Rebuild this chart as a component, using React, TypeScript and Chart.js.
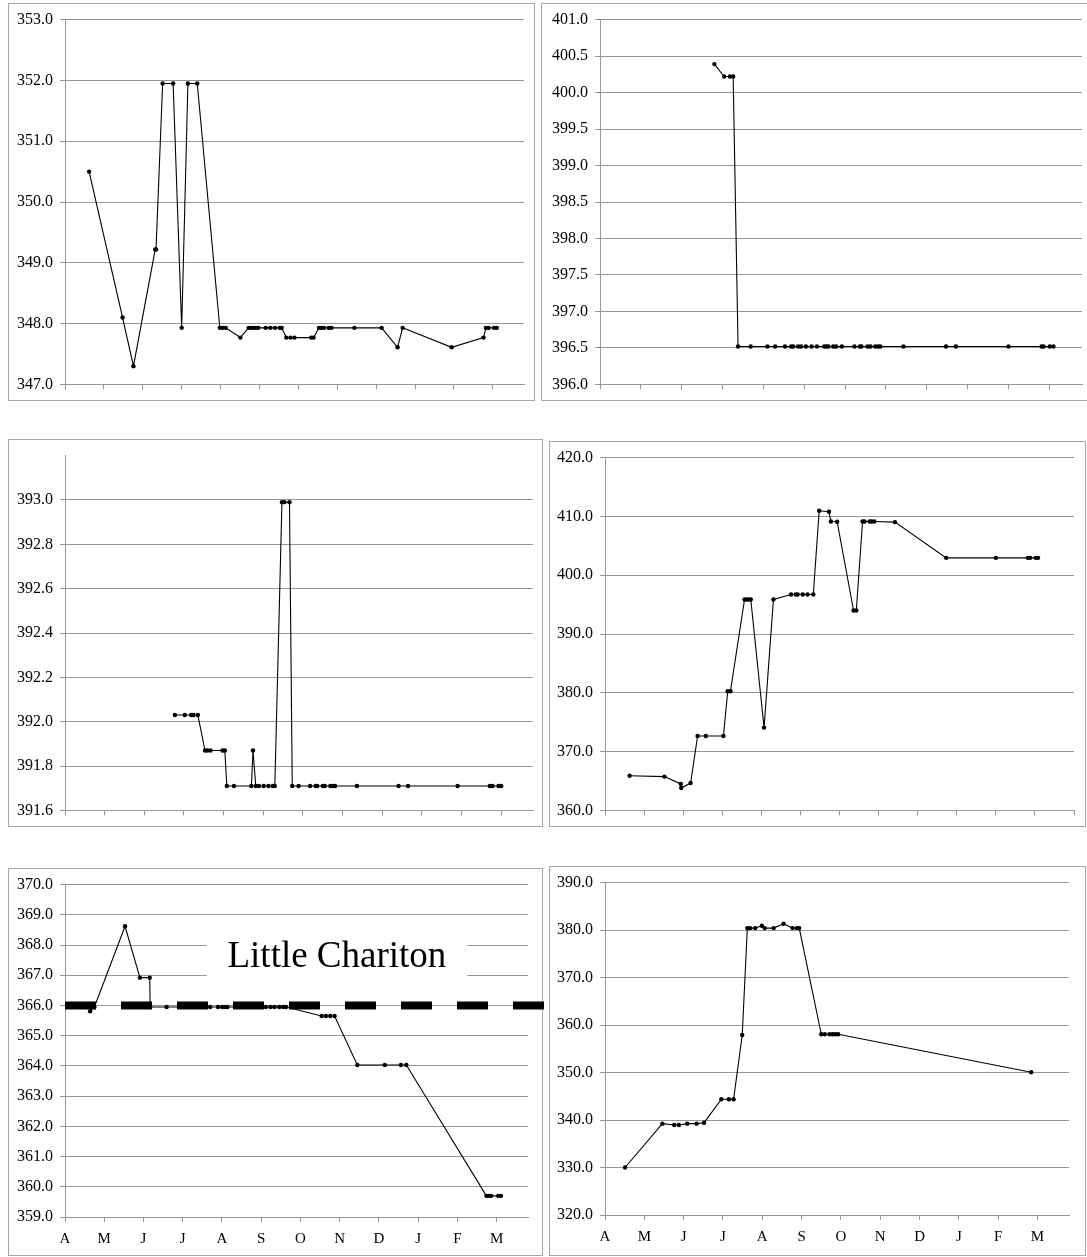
import React, { useEffect, useRef } from "react";
import { Chart, registerables } from "chart.js";

Chart.register(...registerables);

const SERIF = '"Liberation Serif", "Times New Roman", serif';
const GRID_GRAY = "#979797";
const FRAME_GRAY = "#a6a6a6";

// Month initials, April through March
const monthLetters = ["A", "M", "J", "J", "A", "S", "O", "N", "D", "J", "F", "M"];
const monthTicks = [0, 1, 2, 3, 4, 5, 6, 7, 8, 9, 10, 11];
const monthTicksWide = [0, 1, 2, 3, 4, 5, 6, 7, 8, 9, 10, 11, 12];

// Panel 1: months after 1 April, pool level
const p1Month = [
  0.62, 1.48, 1.76, 2.32, 2.34, 2.51, 2.78, 3.0, 3.16, 3.4, 3.98, 4.05, 4.13, 4.51,
  4.72, 4.78, 4.85, 4.91, 4.97, 5.16, 5.28, 5.4, 5.52, 5.57, 5.69, 5.8, 5.9, 6.33,
  6.39, 6.53, 6.59, 6.66, 6.78, 6.85, 7.44, 8.14, 8.55, 8.68, 9.94, 10.76, 10.82,
  10.89, 11.03, 11.1,
];
const p1Level = [
  350.5, 348.1, 347.3, 349.22, 349.22, 351.95, 351.95, 347.93, 351.95, 351.95, 347.93,
  347.93, 347.93, 347.77, 347.93, 347.93, 347.93, 347.93, 347.93, 347.93, 347.93,
  347.93, 347.93, 347.93, 347.77, 347.77, 347.77, 347.77, 347.77, 347.93, 347.93,
  347.93, 347.93, 347.93, 347.93, 347.93, 347.61, 347.93, 347.61, 347.77, 347.93,
  347.93, 347.93, 347.93,
];
const p1Ticks = [347, 348, 349, 350, 351, 352, 353];

// Panel 2
const p2Month = [
  2.8, 3.04, 3.18, 3.26, 3.38, 3.69, 4.1, 4.29, 4.53, 4.68, 4.73, 4.85, 4.92, 5.04,
  5.18, 5.31, 5.49, 5.54, 5.59, 5.71, 5.78, 5.92, 6.23, 6.36, 6.4, 6.55, 6.62, 6.74,
  6.81, 6.86, 7.43, 8.47, 8.71, 10.0, 10.81, 10.86, 11.01, 11.1,
];
const p2Level = [
  400.39, 400.22, 400.22, 400.22, 396.52, 396.52, 396.52, 396.52, 396.52, 396.52,
  396.52, 396.52, 396.52, 396.52, 396.52, 396.52, 396.52, 396.52, 396.52, 396.52,
  396.52, 396.52, 396.52, 396.52, 396.52, 396.52, 396.52, 396.52, 396.52, 396.52,
  396.52, 396.52, 396.52, 396.52, 396.52, 396.52, 396.52, 396.52,
];
const p2Ticks = [396, 396.5, 397, 397.5, 398, 398.5, 399, 399.5, 400, 400.5, 401];

// Panel 3
const p3Month = [
  2.77, 3.02, 3.18, 3.24, 3.35, 3.53, 3.59, 3.67, 3.97, 4.03, 4.08, 4.26, 4.7, 4.74,
  4.81, 4.89, 5.01, 5.13, 5.24, 5.29, 5.47, 5.53, 5.66, 5.73, 5.89, 6.18, 6.32, 6.36,
  6.5, 6.55, 6.69, 6.76, 6.81, 7.36, 8.41, 8.65, 9.9, 10.71, 10.78, 10.93, 11.0,
];
const p3Level = [
  392.03, 392.03, 392.03, 392.03, 392.03, 391.87, 391.87, 391.87, 391.87, 391.87,
  391.71, 391.71, 391.71, 391.87, 391.71, 391.71, 391.71, 391.71, 391.71, 391.71,
  392.99, 392.99, 392.99, 391.71, 391.71, 391.71, 391.71, 391.71, 391.71, 391.71,
  391.71, 391.71, 391.71, 391.71, 391.71, 391.71, 391.71, 391.71, 391.71, 391.71,
  391.71,
];
const p3Ticks = [391.6, 391.8, 392.0, 392.2, 392.4, 392.6, 392.8, 393.0];

// Panel 4
const p4Month = [
  0.63, 1.52, 1.94, 1.95, 2.19, 2.37, 2.58, 3.03, 3.14, 3.21, 3.57, 3.63, 3.68, 3.73,
  4.07, 4.31, 4.76, 4.88, 4.93, 5.06, 5.18, 5.33, 5.48, 5.73, 5.78, 5.94, 6.36, 6.43,
  6.59, 6.64, 6.77, 6.82, 6.89, 7.42, 8.73, 10.0, 10.82, 10.88, 11.02, 11.08,
];
const p4Level = [
  365.9, 365.75, 364.5, 363.8, 364.65, 372.65, 372.65, 372.65, 380.26, 380.26, 395.88,
  395.88, 395.88, 395.88, 374.08, 395.88, 396.71, 396.71, 396.71, 396.71, 396.71,
  396.71, 410.95, 410.8, 409.13, 409.1, 394.0, 394.0, 409.13, 409.13, 409.13, 409.13,
  409.13, 409.02, 402.95, 402.95, 402.95, 402.95, 402.95, 402.95,
];
const p4Ticks = [360, 370, 380, 390, 400, 410, 420];

// Panel 5 (Little Chariton)
const p5Month = [
  0.64, 0.75, 1.53, 1.91, 2.16, 2.17, 2.59, 3.7, 3.9, 4.01, 4.08, 4.14, 5.12, 5.24,
  5.34, 5.46, 5.56, 5.63, 6.54, 6.65, 6.76, 6.87, 7.45, 8.15, 8.56, 8.7, 10.74, 10.8,
  10.86, 11.04, 11.11,
];
const p5Level = [
  365.81, 365.95, 368.62, 366.92, 366.92, 365.95, 365.95, 365.95, 365.95, 365.95,
  365.95, 365.95, 365.95, 365.95, 365.95, 365.95, 365.95, 365.95, 365.65, 365.65,
  365.65, 365.65, 364.03, 364.03, 364.03, 364.03, 359.7, 359.7, 359.7, 359.7, 359.7,
];
const p5Ticks = [359, 360, 361, 362, 363, 364, 365, 366, 367, 368, 369, 370];
const p5GuideLevel = 366;
const p5Name = "Little Chariton";

// Panel 6
const p6Month = [
  0.51, 1.46, 1.76, 1.88, 2.09, 2.33, 2.52, 2.96, 3.15, 3.27, 3.49, 3.62, 3.69, 3.82,
  3.99, 4.06, 4.29, 4.54, 4.77, 4.88, 4.94, 5.5, 5.59, 5.71, 5.79, 5.86, 5.93, 10.84,
];
const p6Level = [
  330.0, 339.24, 338.96, 338.96, 339.24, 339.24, 339.44, 344.37, 344.37, 344.37,
  357.92, 380.42, 380.42, 380.42, 380.9, 380.42, 380.42, 381.32, 380.42, 380.42,
  380.42, 358.06, 358.06, 358.06, 358.06, 358.06, 358.06, 350.07,
];
const p6Ticks = [320, 330, 340, 350, 360, 370, 380, 390];

type Rect = { l: number; t: number; r: number; b: number };
type PanelSpec = {
  months: number[];
  levels: number[];
  yTicks: number[];
  yMax: number;
  xTicks: number[];
  xMax: number;
  labelled: boolean;
  frame: Rect;
  plot: Rect;
  canvasRight?: number;
  guide?: { level: number; toMonth: number };
  caption?: { text: string; month: number; level: number };
};

const PANELS: PanelSpec[] = [
  {
    months: p1Month, levels: p1Level, yTicks: p1Ticks, yMax: 353,
    xTicks: monthTicks, xMax: 11.8, labelled: false,
    frame: { l: 8, t: 3, r: 534, b: 400 }, plot: { l: 65, t: 15, r: 524, b: 387 },
  },
  {
    months: p2Month, levels: p2Level, yTicks: p2Ticks, yMax: 401,
    xTicks: monthTicks, xMax: 11.8, labelled: false,
    frame: { l: 541, t: 3, r: 1095, b: 400 }, plot: { l: 600, t: 15, r: 1082, b: 387 },
    canvasRight: 1087,
  },
  {
    months: p3Month, levels: p3Level, yTicks: p3Ticks, yMax: 393.2,
    xTicks: monthTicks, xMax: 11.8, labelled: false,
    frame: { l: 8, t: 439, r: 542, b: 826 }, plot: { l: 65, t: 452, r: 533, b: 816 },
  },
  {
    months: p4Month, levels: p4Level, yTicks: p4Ticks, yMax: 420,
    xTicks: monthTicksWide, xMax: 12, labelled: false,
    frame: { l: 549, t: 441, r: 1085, b: 826 }, plot: { l: 605, t: 454, r: 1074, b: 816 },
  },
  {
    months: p5Month, levels: p5Level, yTicks: p5Ticks, yMax: 370,
    xTicks: monthTicks, xMax: 11.8, labelled: true,
    frame: { l: 8, t: 868, r: 542, b: 1255 }, plot: { l: 65, t: 882, r: 528, b: 1217 },
    canvasRight: 548,
    guide: { level: p5GuideLevel, toMonth: 12.23 },
    caption: { text: p5Name, month: 6.93, level: 367.27 },
  },
  {
    months: p6Month, levels: p6Level, yTicks: p6Ticks, yMax: 390,
    xTicks: monthTicks, xMax: 11.8, labelled: true,
    frame: { l: 549, t: 866, r: 1085, b: 1255 }, plot: { l: 605, t: 879, r: 1069, b: 1215 },
  },
];

// Text label on a white box, anchored at a (month, level) baseline point
function captionPlugin(caption: { text: string; month: number; level: number }) {
  return {
    id: "caption",
    beforeDatasetsDraw(chart: any) {
      const { ctx, scales } = chart;
      const cx = scales.x.getPixelForValue(caption.month);
      const base = scales.y.getPixelForValue(caption.level);
      ctx.save();
      ctx.font = `37px ${SERIF}`;
      const w = ctx.measureText(caption.text).width;
      ctx.fillStyle = "#ffffff";
      ctx.fillRect(cx - w / 2 - 21, base - 50, w + 42, 72);
      ctx.fillStyle = "#000000";
      ctx.textAlign = "center";
      ctx.textBaseline = "alphabetic";
      ctx.fillText(caption.text, cx, base);
      ctx.restore();
    },
  };
}

function LevelPanel({ spec }: { spec: PanelSpec }) {
  const ref = useRef<HTMLCanvasElement>(null);
  const { frame, plot } = spec;
  const width = (spec.canvasRight ?? frame.r) - frame.l + 1;
  const height = frame.b - frame.t + 1;

  useEffect(() => {
    const canvas = ref.current;
    if (!canvas) return;
    const yWidth = plot.l - frame.l;
    const xHeight = height - (plot.b - frame.t);
    const padTop = plot.t - frame.t;
    const padRight = width - (plot.r - frame.l);

    const datasets: any[] = [];
    if (spec.guide) {
      datasets.push({
        data: [
          { x: 0, y: spec.guide.level },
          { x: spec.guide.toMonth, y: spec.guide.level },
        ],
        borderColor: "#000000",
        borderWidth: 8,
        borderDash: [31, 25],
        borderCapStyle: "butt",
        pointRadius: 0,
        clip: false,
        order: 0,
      });
    }
    datasets.push({
      data: spec.months.map((m, i) => ({ x: m, y: spec.levels[i] })),
      borderColor: "#000000",
      borderWidth: 1.1,
      pointRadius: 2.2,
      pointBackgroundColor: "#000000",
      pointBorderWidth: 0,
      tension: 0,
      order: 1,
    });

    const chart = new Chart(canvas, {
      type: "line",
      data: { datasets },
      plugins: spec.caption ? [captionPlugin(spec.caption)] : [],
      options: {
        responsive: false,
        animation: false,
        events: [],
        layout: { padding: { top: padTop, right: padRight, left: 0, bottom: 0 } },
        plugins: { legend: { display: false }, tooltip: { enabled: false } },
        scales: {
          x: {
            type: "linear",
            min: 0,
            max: spec.xMax,
            afterBuildTicks: (s: any) => {
              s.ticks = spec.xTicks.map((v) => ({ value: v }));
            },
            afterFit: (s: any) => {
              s.height = xHeight;
            },
            grid: { drawOnChartArea: false, drawTicks: true, tickLength: 5, color: GRID_GRAY },
            border: { display: true, color: GRID_GRAY, width: 1 },
            ticks: {
              display: spec.labelled,
              autoSkip: false,
              maxRotation: 0,
              padding: 8,
              color: "#000000",
              font: { family: SERIF, size: 15 },
              callback: (v: any) => monthLetters[Math.round(Number(v))] ?? "",
            },
          },
          y: {
            type: "linear",
            min: spec.yTicks[0],
            max: spec.yMax,
            afterBuildTicks: (s: any) => {
              s.ticks = spec.yTicks.map((v) => ({ value: v }));
            },
            afterFit: (s: any) => {
              s.width = yWidth;
            },
            grid: { color: GRID_GRAY, drawTicks: true, tickLength: 5 },
            border: { display: true, color: GRID_GRAY, width: 1 },
            ticks: {
              padding: 7,
              color: "#000000",
              font: { family: SERIF, size: 16 },
              callback: (v: any) => Number(v).toFixed(1),
            },
          },
        },
      } as any,
    });
    return () => chart.destroy();
  }, []);

  return (
    <>
      <div
        style={{
          position: "absolute",
          left: frame.l,
          top: frame.t,
          width: frame.r - frame.l + 1,
          height: frame.b - frame.t + 1,
          border: `1px solid ${FRAME_GRAY}`,
          boxSizing: "border-box",
        }}
      />
      <canvas
        ref={ref}
        width={width}
        height={height}
        style={{ position: "absolute", left: frame.l, top: frame.t, width, height }}
      />
    </>
  );
}

export default function App() {
  return (
    <div
      style={{
        position: "absolute",
        left: 0,
        top: 0,
        width: 1087,
        height: 1257,
        overflow: "hidden",
        background: "#ffffff",
      }}
    >
      {PANELS.map((p, i) => (
        <LevelPanel key={i} spec={p} />
      ))}
    </div>
  );
}
